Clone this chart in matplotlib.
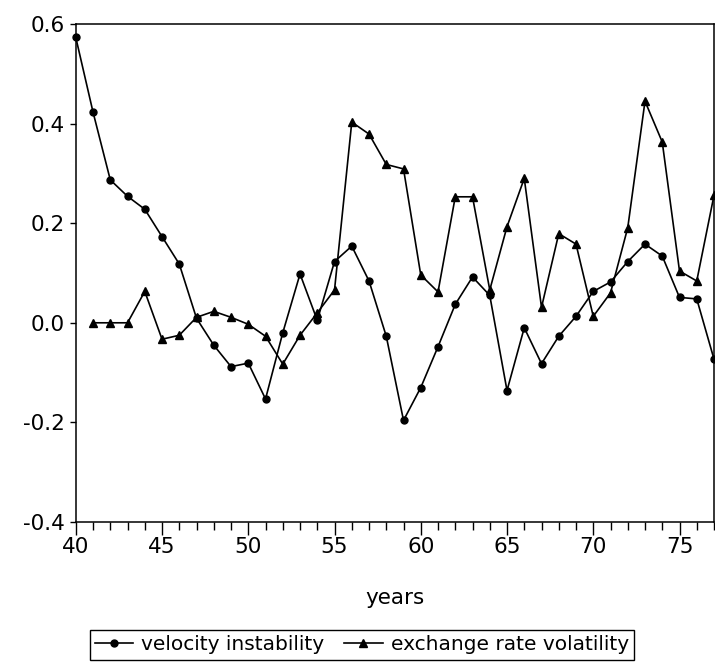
import numpy as np
import matplotlib
matplotlib.use('Agg')
import matplotlib.pyplot as plt
from matplotlib.ticker import MultipleLocator


#Data (years are 19xx, shown as two digits)
vel_years = list(range(40, 78))
velocity = [0.573, 0.423, 0.287, 0.254, 0.228, 0.173, 0.118, 0.009, -0.045, -0.088,
            -0.081, -0.153, -0.020, 0.098, 0.005, 0.123, 0.154, 0.084, -0.027, -0.196,
            -0.130, -0.048, 0.037, 0.092, 0.055, -0.136, -0.010, -0.082, -0.027, 0.013,
            0.063, 0.082, 0.123, 0.158, 0.134, 0.051, 0.048, -0.073]

exch_years = list(range(41, 78))
exchange = [0.000, 0.000, 0.000, 0.063, -0.033, -0.025, 0.011, 0.023, 0.011, -0.003,
            -0.027, -0.083, -0.025, 0.020, 0.066, 0.403, 0.379, 0.318, 0.309, 0.096,
            0.062, 0.253, 0.253, 0.066, 0.193, 0.290, 0.031, 0.179, 0.158, 0.013,
            0.060, 0.191, 0.445, 0.363, 0.104, 0.084, 0.256]

x_ticks = [40, 45, 50, 55, 60, 65, 70, 75]
y_ticks = [-0.4, -0.2, 0.0, 0.2, 0.4, 0.6]

plt.rcParams['font.family'] = ['DejaVu Sans']
plt.rcParams['font.size'] = 15.5

#Figure and axes placement
fig = plt.figure(figsize=(7.15, 6.67), dpi=100)
ax = fig.add_axes([0.106, 0.2174, 0.8926, 0.7466])

#Plot both series
ax.plot(vel_years, velocity, color='black', linewidth=1.2,
        marker='o', markersize=5, label='velocity instability', clip_on=False)
ax.plot(exch_years, exchange, color='black', linewidth=1.2,
        marker='^', markersize=5.5, label='exchange rate volatility', clip_on=False)

#Axis limits and ticks
ax.set_xlim(40, 77)
ax.set_ylim(-0.4, 0.6)
ax.set_xticks(x_ticks)
ax.xaxis.set_minor_locator(MultipleLocator(1))
ax.set_yticks(y_ticks)
ax.set_yticklabels(['%.1f' % v for v in y_ticks])
ax.tick_params(axis='x', which='major', direction='out', length=9.5, width=1, pad=1.5)
ax.tick_params(axis='x', which='minor', direction='out', length=5.5, width=1)
ax.tick_params(axis='y', which='major', direction='out', length=4, width=1, pad=4)

for side in ['left', 'right', 'top', 'bottom']:
    ax.spines[side].set_linewidth(1.1)

ax.set_xlabel('years', labelpad=22)

#Legend box below the plot
fig.legend(loc='center', bbox_to_anchor=(0.506, 0.033), ncol=2,
           frameon=True, fancybox=False, edgecolor='black', framealpha=1,
           fontsize=14.5, handlelength=1.9, handletextpad=0.4, columnspacing=1.0,
           borderpad=0.25, numpoints=1)

fig.savefig('out.png', dpi=100)
plt.close(fig)
